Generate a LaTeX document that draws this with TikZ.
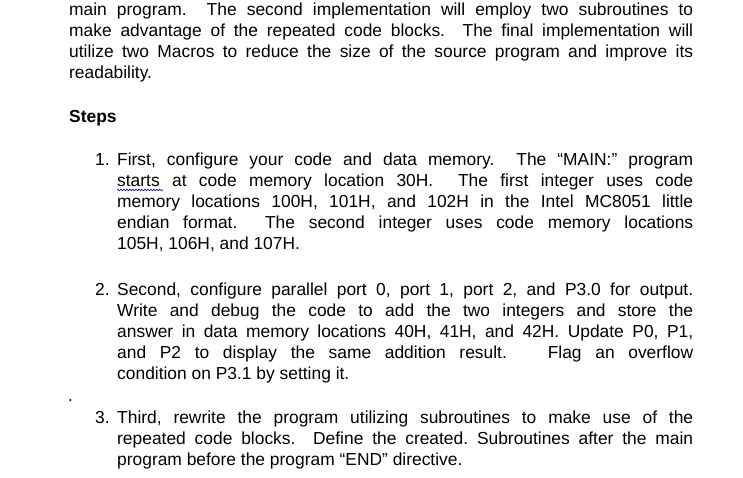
\documentclass[tikz,border=0pt]{standalone}
\usepackage{fontspec}
\setmainfont{Liberation Sans}
\usetikzlibrary{decorations.pathmorphing}
\def\fsz{\fontsize{17.4}{21}\selectfont}
\tikzset{para/.style={anchor=base west,inner sep=0pt,font=\fsz}}
\newcommand{\jp}[2]{\parbox[t]{#1pt}{\fsz\frenchspacing\parindent=0pt\rightskip=0pt\hfuzz=20pt #2}}
\begin{document}
\begin{tikzpicture}[x=1pt,y=1pt]
\useasboundingbox (0,0) rectangle (743,477);
\fill[white] (0,0) rectangle (743,477);
\node[para] (p0) at (69,461) {\jp{624}{main program.\ \ The second implementation will employ two subroutines to\linebreak make advantage of the repeated code blocks.\ \ The final implementation will\linebreak utilize two Macros to reduce the size of the source program and improve its\linebreak readability.}};
\node[para,font=\fsz\bfseries] (steps) at (69,354) {Steps};
\node[para] (n1) at (95,311) {1.};
\node[para] (t1) at (117,311) {\jp{576}{First, configure your code and data memory.\ \ The “MAIN:” program\linebreak starts at code memory location 30H.\ \ The first integer uses code\linebreak memory locations 100H, 101H, and 102H in the Intel MC8051 little\linebreak endian format.\ \ The second integer uses code memory locations\linebreak 105H, 106H, and 107H.}};
\node[para] (n2) at (95,182) {2.};
\node[para] (t2) at (117,182) {\jp{576}{Second, configure parallel port 0, port 1, port 2, and P3.0 for output.\linebreak Write and debug the code to add the two integers and store the\linebreak answer in data memory locations 40H, 41H, and 42H. Update P0, P1,\linebreak and P2 to display the same addition result.\ \ \ Flag an overflow\linebreak condition on P3.1 by setting it.}};
\node[para] (dot) at (68,76) {.};
\node[para] (n3) at (95,54) {3.};
\node[para] (t3) at (117,54) {\jp{576}{Third, rewrite the program utilizing subroutines to make use of the\linebreak repeated code blocks.\ \ Define the created. Subroutines after the main\linebreak program before the program “END” directive.}};
\draw[blue!70!black,line width=0.6pt,decorate,decoration={snake,amplitude=0.8pt,segment length=3pt}] (117,287) -- (163,287);
\end{tikzpicture}
\end{document}
